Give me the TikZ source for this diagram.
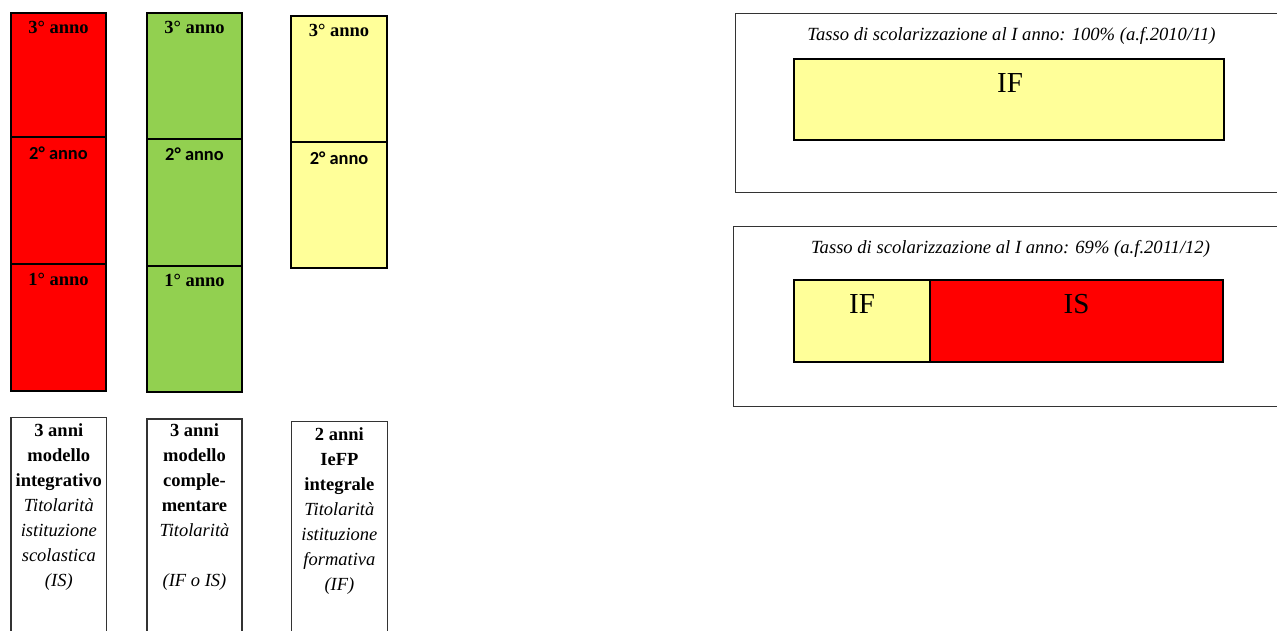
\documentclass[tikz,border=0pt]{standalone}
\usepackage{fontspec}
\setmainfont{Liberation Serif}
\newfontfamily\calibri{Carlito}
\definecolor{cred}{HTML}{FF0000}
\definecolor{cgreen}{HTML}{92D050}
\definecolor{cyellow}{HTML}{FFFF99}
\definecolor{frame}{HTML}{333333}
\begin{document}
\begin{tikzpicture}[x=1pt,y=-1pt,
  cell/.style={draw=black,line width=2pt},
  thin box/.style={draw=frame,line width=1.3pt},
  yearserif/.style={anchor=base,inner sep=0pt,font=\bfseries\fontsize{18.5}{22}\selectfont},
  yearsans/.style={anchor=base,inner sep=0pt,font=\calibri\bfseries\fontsize{18.4}{22}\selectfont},
  desc/.style={anchor=north,inner sep=0pt,align=center,font=\fontsize{18.5}{25}\selectfont},
  title/.style={anchor=base,inner sep=0pt,font=\itshape\fontsize{18.6}{22}\selectfont},
  big/.style={anchor=base,inner sep=0pt,font=\fontsize{29}{32}\selectfont}]
\useasboundingbox (0,0) rectangle (1277,631);
\begin{scope}
\clip (0,0) rectangle (1277,631);
% red column
\path[cell,fill=cred] (11,13) rectangle (106,137);
\path[cell,fill=cred] (11,137) rectangle (106,264);
\path[cell,fill=cred] (11,264) rectangle (106,391);
\node[yearserif] (r3) at (58.5,34) {3° anno};
\node[yearsans]  (r2) at (58.5,159.3) {2° anno};
\node[yearserif] (r1) at (58.5,285.7) {1° anno};
% green column
\path[cell,fill=cgreen] (147,13.5) rectangle (242,139.5);
\path[cell,fill=cgreen] (147,139.5) rectangle (242,265.7);
\path[cell,fill=cgreen] (147,265.7) rectangle (242,391.7);
\node[yearserif] (g3) at (194.5,34) {3° anno};
\node[yearsans]  (g2) at (194.5,161) {2° anno};
\node[yearserif] (g1) at (194.5,286.7) {1° anno};
% yellow column
\path[cell,fill=cyellow] (291,16) rectangle (387,142.3);
\path[cell,fill=cyellow] (291,142.3) rectangle (387,268.3);
\node[yearserif] (y3) at (339,36.7) {3° anno};
\node[yearsans]  (y2) at (339,164.3) {2° anno};
% description boxes
\path[thin box] (11,417.3) rectangle (106.7,650);
\path[thin box] (147,419) rectangle (242,650);
\path[thin box] (291.5,421.7) rectangle (387.3,650);
\node[desc] (d1) at (58.8,422) {\rule{0pt}{14pt}\textbf{3 anni}\\\textbf{modello}\\\textbf{integrativo}\\\textit{Titolarità}\\\textit{istituzione}\\\textit{scolastica}\\\textit{(IS)}};
\node[desc] (d2) at (194.5,422.6) {\rule{0pt}{14pt}\textbf{3 anni}\\\textbf{modello}\\\textbf{comple-}\\\textbf{mentare}\\\textit{Titolarità}\\[25pt]\textit{(IF o IS)}};
\node[desc] (d3) at (339.4,426) {\rule{0pt}{14pt}\textbf{2 anni}\\\textbf{IeFP}\\\textbf{integrale}\\\textit{Titolarità}\\\textit{istituzione}\\\textit{formativa}\\\textit{(IF)}};
% right panels
\path[thin box] (735.5,13.3) rectangle (1300,192.7);
\path[cell,fill=cyellow] (794,59) rectangle (1223.7,140);
\node[title] (t1) at (1011.5,40.7) {Tasso di scolarizzazione al I anno: 100\% (a.f.2010/11)};
\node[big] (if1) at (1010,92.3) {IF};
\path[thin box] (733.5,226.7) rectangle (1300,406.7);
\path[cell,fill=cyellow] (794,280) rectangle (930,361.7);
\path[cell,fill=cred] (930,280) rectangle (1222.7,361.7);
\node[title] (t2) at (1010.5,253.3) {Tasso di scolarizzazione al I anno: 69\% (a.f.2011/12)};
\node[big] (if2) at (862,313.3) {IF};
\node[big] (is2) at (1076.5,313.3) {IS};
\end{scope}
\end{tikzpicture}
\end{document}
